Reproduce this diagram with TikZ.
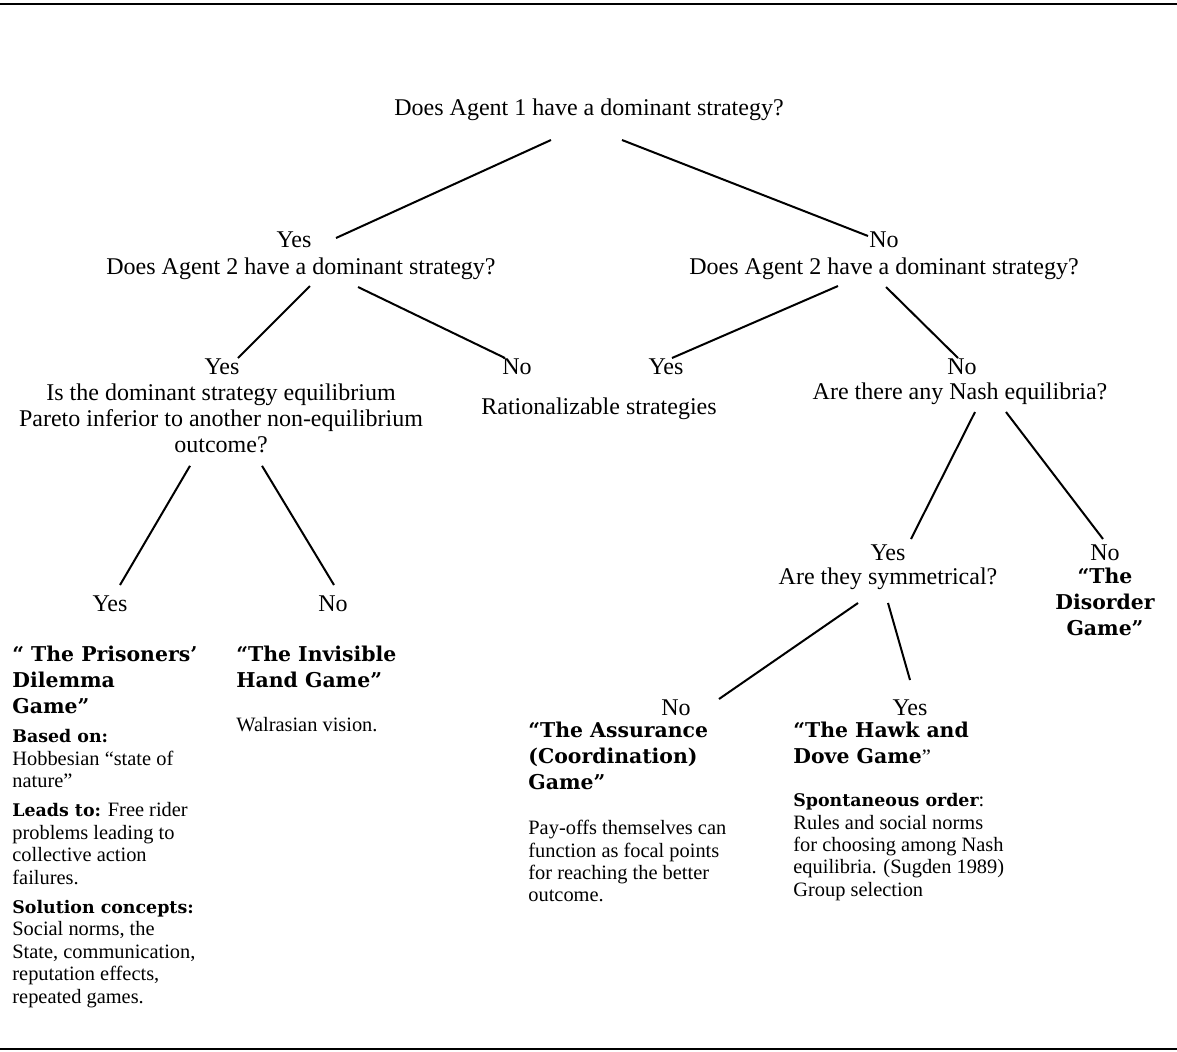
\documentclass[tikz,border=0pt]{standalone}
\usepackage{fontspec}
\setmainfont{Liberation Serif}
\newfontfamily\headfont{DejaVu Serif}
\usetikzlibrary{calc}
\newcommand\keyterm[1]{{\headfont\bfseries\fontsize{8.7}{11.2}\selectfont #1}}

\begin{document}
\begin{tikzpicture}[x=0.5pt, y=-0.5pt,
  ask/.style={font=\fontsize{12}{13}\selectfont, align=center, inner sep=0pt, yshift=-1pt},
  game/.style={font=\headfont\bfseries\fontsize{10.2}{13}\selectfont, align=left, inner sep=0pt, anchor=north west},
  note/.style={font=\fontsize{10.2}{11.2}\selectfont, align=left, inner sep=0pt, anchor=north west},
  branch/.style={line width=1pt},
  rule/.style={line width=1pt}]
\useasboundingbox (0,0) rectangle (1177,1051);
% filetti sopra e sotto
\draw[rule] (0,4) -- (1177,4);
\draw[rule] (0,1049) -- (1177,1049);
% primo livello
\node[ask] (q1) at (589,108) {Does Agent 1 have a dominant strategy?};
\node[ask] (a1y) at (294,238) {Yes};
\node[ask] (q2l) at (301,267) {Does Agent 2 have a dominant strategy?};
\node[ask] (a1n) at (884,238) {No};
\node[ask] (q2r) at (884,267) {Does Agent 2 have a dominant strategy?};
\draw[branch] ($(q1)+(-38,30)$) -- ($(a1y)+(42,-2)$);
\draw[branch] ($(q1)+(33,30)$) -- ($(a1n)+(-16,-4)$);
% secondo livello, ramo sinistro
\node[ask] (a2ly) at (222,365) {Yes};
\node[ask, anchor=north] (q3) at (221,381) {Is the dominant strategy equilibrium\\Pareto inferior to another non-equilibrium\\outcome?};
\node[ask] (a2ln) at (517,365) {No};
\node[ask] (rat) at (599,407) {Rationalizable strategies};
\draw[branch] ($(q2l)+(9,17)$) -- ($(a2ly)+(16,-9)$);
\draw[branch] ($(q2l)+(57,18)$) -- ($(a2ln)+(-12,-9)$);
% secondo livello, ramo destro
\node[ask] (a2ry) at (666,365) {Yes};
\node[ask] (a2rn) at (962,365) {No};
\node[ask] (q4) at (960,392) {Are there any Nash equilibria?};
\draw[branch] ($(q2r)+(-46,17)$) -- ($(a2ry)+(6,-9)$);
\draw[branch] ($(q2r)+(2,18)$) -- ($(a2rn)+(-4,-9)$);
% equilibri di Nash
\node[ask] (a3y) at (888,551) {Yes};
\node[ask] (q5) at (888,577) {Are they symmetrical?};
\node[ask] (a3n) at (1105,551) {No};
\node[game, anchor=north, align=center] (disorder) at (1105,568) {“The\\Disorder\\Game”};
\draw[branch] ($(q4)+(15,18)$) -- ($(a3y)+(23,-14)$);
\draw[branch] ($(q4)+(46,18)$) -- ($(a3n)+(-2,-14)$);
% dilemma e mano invisibile
\node[ask] (a5y) at (110,602) {Yes};
\node[ask] (a5n) at (333,602) {No};
\draw[branch] ($(q3.south)+(-31,13)$) -- ($(a5y)+(10,-19)$);
\draw[branch] ($(q3.south)+(41,13)$) -- ($(a5n)+(1,-19)$);
\node[game] (prisoners) at (12,646) {“ The Prisoners’\\Dilemma\\Game”};
\node[note] (pdnote) at (12,729) {\keyterm{Based on:}\\Hobbesian “state of\\nature”\\[3.5pt]
  \keyterm{Leads to:} Free rider\\problems leading to\\collective action\\failures.\\[3.5pt]
  \keyterm{Solution concepts:}\\Social norms, the\\State, communication,\\reputation effects,\\repeated games.};
\node[game] (invisible) at (236,646) {“The Invisible\\Hand Game”};
\node[note] (ihnote) at (236,717) {Walrasian vision.};
% giochi simmetrici
\node[ask] (a4n) at (676,706) {No};
\node[ask] (a4y) at (910,706) {Yes};
\draw[branch] ($(q5)+(-30,24)$) -- ($(a4n)+(43,-9)$);
\draw[branch] ($(q5)+(0,24)$) -- ($(a4y)+(0,-28)$);
\node[game] (assurance) at (528,722) {“The Assurance\\(Coordination)\\Game”};
\node[note] (asnote) at (528,820) {Pay-offs themselves can\\function as focal points\\for reaching the better\\outcome.};
\node[game] (hawk) at (793,722) {“The Hawk and\\Dove Game{\rmfamily\mdseries ”}};
\node[note] (hdnote) at (793,793) {\keyterm{Spontaneous order}:\\Rules and social norms\\for choosing among Nash\\equilibria. (Sugden 1989)\\Group selection};
\end{tikzpicture}
\end{document}
